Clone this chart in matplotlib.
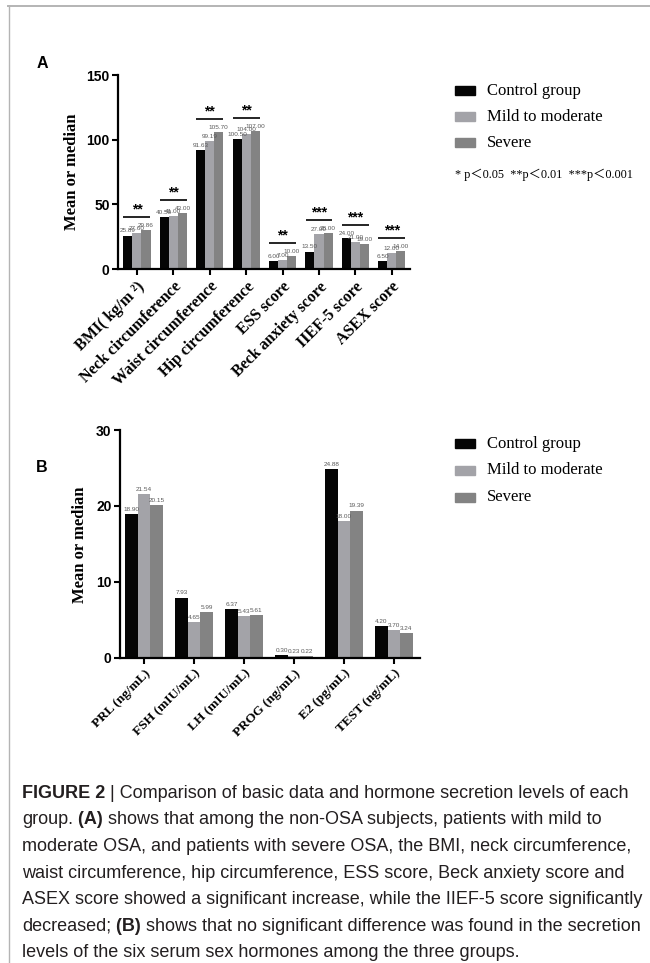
import matplotlib
matplotlib.use("Agg")
import matplotlib.pyplot as plt
import numpy as np
from matplotlib.lines import Line2D
from matplotlib.patches import Rectangle

# ---- Panel A: basic data ----
a_categories = ["BMI( kg/m ²)", "Neck circumference", "Waist circumference",
                "Hip circumference", "ESS score", "Beck anxiety score",
                "IIEF-5 score", "ASEX score"]
a_control = [25.89, 40.50, 91.63, 100.50, 6.00, 13.50, 24.00, 6.50]
a_mild = [27.60, 41.00, 99.19, 104.00, 7.00, 27.00, 21.00, 12.00]
a_severe = [29.86, 43.00, 105.70, 107.00, 10.00, 28.00, 19.00, 14.00]
a_significance = ["**", "**", "**", "**", "**", "***", "***", "***"]
a_yticks = [0, 50, 100, 150]

# ---- Panel B: serum sex hormones ----
b_categories = ["PRL (ng/mL)", "FSH (mIU/mL)", "LH (mIU/mL)",
                "PROG (ng/mL)", "E2 (pg/mL)", "TEST (ng/mL)"]
b_control = [18.90, 7.93, 6.37, 0.30, 24.88, 4.20]
b_mild = [21.54, 4.65, 5.43, 0.23, 18.00, 3.70]
b_severe = [20.15, 5.99, 5.61, 0.22, 19.39, 3.24]
b_yticks = [0, 10, 20, 30]

group_names = ["Control group", "Mild to moderate", "Severe"]
p_note = "* p＜0.05  **p＜0.01  ***p＜0.001"

caption_lines = [
    [("FIGURE 2", True), (" | Comparison of basic data and hormone secretion levels of each", False)],
    [("group.", False), (" (A)", True), (" shows that among the non-OSA subjects, patients with mild to", False)],
    [("moderate OSA, and patients with severe OSA, the BMI, neck circumference,", False)],
    [("waist circumference, hip circumference, ESS score, Beck anxiety score and", False)],
    [("ASEX score showed a significant increase, while the IIEF-5 score significantly", False)],
    [("decreased;", False), (" (B)", True), (" shows that no significant difference was found in the secretion", False)],
    [("levels of the six serum sex hormones among the three groups.", False)],
]

COLORS = ["#050505", "#a3a3a8", "#838383"]
SERIF = ["Liberation Serif", "DejaVu Serif"]
SERIF_CJK = ["Liberation Serif", "Noto Sans CJK SC", "DejaVu Sans"]
SANS = ["Liberation Sans", "DejaVu Sans"]

W, H = 650, 963
fig = plt.figure(figsize=(W / 100, H / 100), dpi=100)


def fx(px):
    return px / W


def fy(py):
    return 1 - py / H


def draw_panel(ax, cats, series, yticks, label_size, value_size, sig=None):
    x = np.arange(len(cats))
    w = 0.25
    for i, vals in enumerate(series):
        pos = x + (i - 1) * w
        ax.bar(pos, vals, w, color=COLORS[i], linewidth=0, zorder=2)
        for p, v in zip(pos, vals):
            ax.annotate(f"{v:.2f}", (p, v), xytext=(0, 1.5), textcoords="offset points",
                        ha="center", va="bottom", fontsize=value_size,
                        color="#5a5a5a", family=SANS)
    if sig is not None:
        tops = np.max(np.array(series), axis=0)
        for xi, top, mark in zip(x, tops, sig):
            y = top + 10
            ax.plot([xi - 0.37, xi + 0.37], [y, y], color="black", lw=1.2,
                    solid_capstyle="butt", zorder=3)
            ax.annotate(mark, (xi, y), xytext=(0, 0.5), textcoords="offset points",
                        ha="center", va="bottom", fontsize=10, fontweight="bold",
                        family=SANS, color="black")
    ax.set_xlim(-0.52, len(cats) - 0.5)
    ax.set_ylim(yticks[0], yticks[-1])
    ax.set_yticks(yticks)
    ax.set_xticks(x)
    ax.set_xticklabels(cats, rotation=45, ha="right", va="top",
                       rotation_mode="anchor", fontsize=label_size,
                       fontweight="bold", family=SERIF)
    for t in ax.get_yticklabels():
        t.set_fontweight("bold")
        t.set_family(SANS)
        t.set_fontsize(10)
    for s in ("top", "right"):
        ax.spines[s].set_visible(False)
    for s in ("left", "bottom"):
        ax.spines[s].set_linewidth(1.6)
    ax.tick_params(axis="both", length=4, width=1.5, direction="out", pad=2)
    ax.tick_params(axis="x", pad=3)


def draw_legend(x0, ys, note_y=None):
    for name, color, y in zip(group_names, COLORS, ys):
        fig.patches.append(Rectangle((fx(x0), fy(y + 4.5)), fx(20), 9 / H,
                                     transform=fig.transFigure, color=color))
        fig.text(fx(x0 + 32), fy(y), name, ha="left", va="center",
                 fontsize=12, family=SERIF)
    if note_y is not None:
        fig.text(fx(x0), fy(note_y), p_note, ha="left", va="center",
                 fontsize=8.8, family=SERIF_CJK)


# Panel A
ax_a = fig.add_axes([fx(118), fy(269), fx(410 - 118), (269 - 75) / H])
draw_panel(ax_a, a_categories, [a_control, a_mild, a_severe], a_yticks,
           11.5, 4.6, sig=a_significance)
fig.text(fx(42), fy(63), "A", ha="center", va="center", fontsize=11.5,
         fontweight="bold", family=SANS)
fig.text(fx(72), fy(172), "Mean or median", ha="center", va="center",
         rotation=90, fontsize=12, fontweight="bold", family=SERIF)
draw_legend(455, [91, 117, 143], note_y=175)

# Panel B
ax_b = fig.add_axes([fx(120), fy(657.7), fx(420 - 120), (657.7 - 430) / H])
draw_panel(ax_b, b_categories, [b_control, b_mild, b_severe], b_yticks,
           9.6, 4.6)
ax_b.set_xlim(-0.48, len(b_categories) - 0.48)
fig.text(fx(42), fy(467), "B", ha="center", va="center", fontsize=11.5,
         fontweight="bold", family=SANS)
fig.text(fx(80), fy(545), "Mean or median", ha="center", va="center",
         rotation=90, fontsize=12, fontweight="bold", family=SERIF)
draw_legend(455, [444, 470, 497])

# Frame lines
fig.add_artist(Line2D([fx(8), 1], [fy(6.5), fy(6.5)], transform=fig.transFigure,
                      color="#b4b4b4", lw=1.4))
fig.add_artist(Line2D([fx(8.5), fx(8.5)], [fy(6), 0], transform=fig.transFigure,
                      color="#b4b4b4", lw=1.0))

# Caption
renderer = fig.canvas.get_renderer()
line_y = [793, 819.7, 846.3, 873, 899.5, 926, 952.7]
for segs, y in zip(caption_lines, line_y):
    x = fx(22)
    for text, bold in segs:
        t = fig.text(x, fy(y), text, ha="left", va="center", fontsize=12.95,
                     fontweight="bold" if bold else "normal", family=SANS,
                     color="#231f20")
        bb = t.get_window_extent(renderer=renderer)
        x = fig.transFigure.inverted().transform((bb.x1, bb.y0))[0]

fig.savefig("out.png", dpi=100)
